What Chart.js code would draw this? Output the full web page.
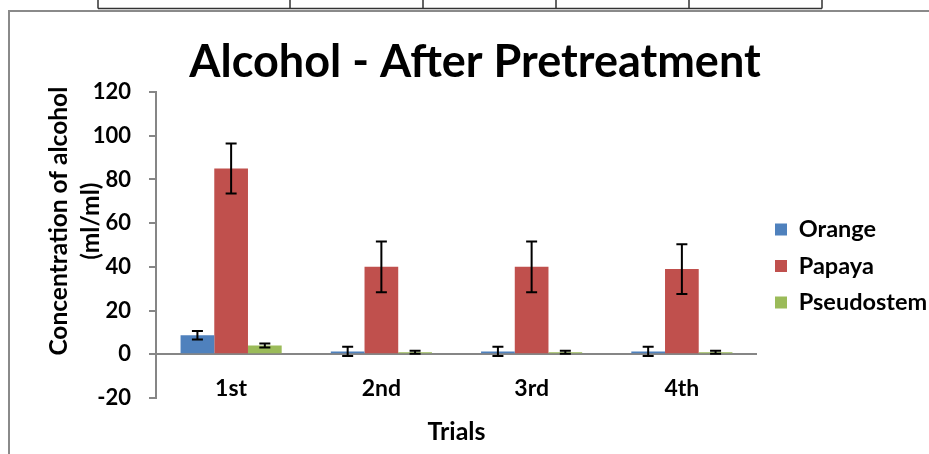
<!DOCTYPE html>
<html>
<head>
<meta charset="utf-8">
<script src="https://cdn.jsdelivr.net/npm/chart.js@4"></script>
<style>
  html, body { margin: 0; padding: 0; background: #fff; overflow: hidden; }
  #wrap { position: relative; width: 929px; height: 454px; overflow: hidden; }
  canvas { position: absolute; left: 0; top: 0; }
</style>
</head>
<body>
<div id="wrap"><canvas id="alcoholChart" width="950" height="454"></canvas></div>
<script>
// Dados
const trials = ['1st', '2nd', '3rd', '4th'];
const orange = [8.7, 1.3, 1.3, 1.3];
const papaya = [85, 40, 40, 39];
const pseudostem = [4, 0.9, 0.9, 0.9];
const orangeErr = [1.9, 2.1, 2.1, 2.1];
const papayaErr = [11.4, 11.6, 11.6, 11.4];
const pseudostemErr = [0.9, 0.7, 0.7, 0.7];
const yTicks = [-20, 0, 20, 40, 60, 80, 100, 120];

const FONT = 'Lato, "Liberation Sans", sans-serif';
const AXIS_GREY = '#868686';
// espaços à esquerda para subir o título do eixo y (como no Excel)
const PAD = '        ';

// moldura da planilha + tabela em cima
const framePlugin = {
    id: 'frame',
    beforeDraw: (chart) => {
        const ctx = chart.ctx;
        ctx.save();
        ctx.strokeStyle = '#333';
        ctx.lineWidth = 1.5;
        ctx.beginPath();
        ctx.moveTo(98, 8.5); ctx.lineTo(822, 8.5);
        [98, 290, 423, 556, 689, 822].forEach(x => {
            ctx.moveTo(x, 0); ctx.lineTo(x, 8.5);
        });
        ctx.stroke();
        ctx.strokeStyle = '#8a8a8a';
        ctx.lineWidth = 2;
        ctx.beginPath();
        ctx.moveTo(9, 460); ctx.lineTo(9, 11); ctx.lineTo(960, 11);
        ctx.stroke();
        ctx.restore();
    }
};

// barras de erro desenhadas sobre as barras
const errorBarPlugin = {
    id: 'errorBars',
    afterDatasetsDraw: (chart) => {
        const ctx = chart.ctx;
        const yScale = chart.scales.y;
        ctx.save();
        ctx.strokeStyle = '#000';
        ctx.lineWidth = 2;
        chart.data.datasets.forEach((ds, i) => {
            const meta = chart.getDatasetMeta(i);
            meta.data.forEach((bar, j) => {
                const v = ds.data[j];
                const e = ds.errors[j];
                const top = yScale.getPixelForValue(v + e);
                const bot = yScale.getPixelForValue(v - e);
                ctx.beginPath();
                ctx.moveTo(bar.x, top); ctx.lineTo(bar.x, bot);
                ctx.moveTo(bar.x - 5.5, top); ctx.lineTo(bar.x + 5.5, top);
                ctx.moveTo(bar.x - 5.5, bot); ctx.lineTo(bar.x + 5.5, bot);
                ctx.stroke();
            });
        });
        ctx.restore();
    }
};

const ctx = document.getElementById('alcoholChart').getContext('2d');
new Chart(ctx, {
    type: 'bar',
    data: {
        labels: trials,
        datasets: [
            { label: 'Orange', data: orange, errors: orangeErr, backgroundColor: '#4F81BD' },
            { label: 'Papaya', data: papaya, errors: papayaErr, backgroundColor: '#C0504D' },
            { label: 'Pseudostem', data: pseudostem, errors: pseudostemErr, backgroundColor: '#9BBB59' }
        ]
    },
    options: {
        responsive: false,
        animation: false,
        devicePixelRatio: 1,
        datasets: { bar: { categoryPercentage: 0.673, barPercentage: 1 } },
        layout: { padding: { left: 21, right: 21, top: 0, bottom: 0 } },
        plugins: {
            title: {
                display: true,
                text: 'Alcohol - After Pretreatment',
                color: '#000',
                font: { family: FONT, size: 45, weight: 'bold', lineHeight: 1.2 },
                padding: { top: 35, bottom: 3 }
            },
            legend: {
                position: 'right',
                maxWidth: 167,
                title: { display: true, text: ' ', font: { size: 10, lineHeight: 1.2 }, padding: { top: 66, bottom: 0 } },
                labels: {
                    color: '#000',
                    boxWidth: 12,
                    boxHeight: 12,
                    padding: 13,
                    font: { family: FONT, size: 23.5, weight: 'bold' }
                }
            },
            tooltip: { enabled: false }
        },
        scales: {
            x: {
                grid: { display: false, drawTicks: false },
                border: { display: false },
                ticks: { color: '#000', mirror: true, padding: -4, font: { family: FONT, size: 23, weight: 'bold', lineHeight: 1.2 } },
                title: {
                    display: true,
                    text: 'Trials',
                    color: '#000',
                    font: { family: FONT, size: 25, weight: 'bold', lineHeight: 1.2 },
                    padding: { top: 0, bottom: 7 }
                },
                afterFit: (scale) => { scale.height = 56; }
            },
            y: {
                min: -20,
                max: 120,
                afterBuildTicks: (scale) => { scale.ticks = yTicks.map(v => ({ value: v })); },
                grid: {
                    color: (c) => (c.tick && c.tick.value === 0 ? AXIS_GREY : 'rgba(0,0,0,0)'),
                    tickColor: AXIS_GREY,
                    tickLength: 7,
                    lineWidth: 2
                },
                border: { display: true, color: AXIS_GREY, width: 2 },
                ticks: { color: '#000', padding: 18, font: { family: FONT, size: 22, weight: 'bold' } },
                title: {
                    display: true,
                    text: [PAD + 'Concentration of alcohol', PAD + '(ml/ml)'],
                    color: '#000',
                    font: { family: FONT, size: 24.5, weight: 'bold', lineHeight: 1.3 },
                    padding: { top: 22, bottom: 0 }
                },
                afterFit: (scale) => { scale.width = 135; }
            },
            // eixo vazio só para afastar a legenda da área do gráfico
            gap: {
                position: 'right',
                display: true,
                grid: { display: false, drawTicks: false },
                border: { display: false },
                ticks: { display: false },
                afterFit: (scale) => { scale.width = 5; }
            }
        }
    },
    plugins: [framePlugin, errorBarPlugin]
});
</script>
</body>
</html>
